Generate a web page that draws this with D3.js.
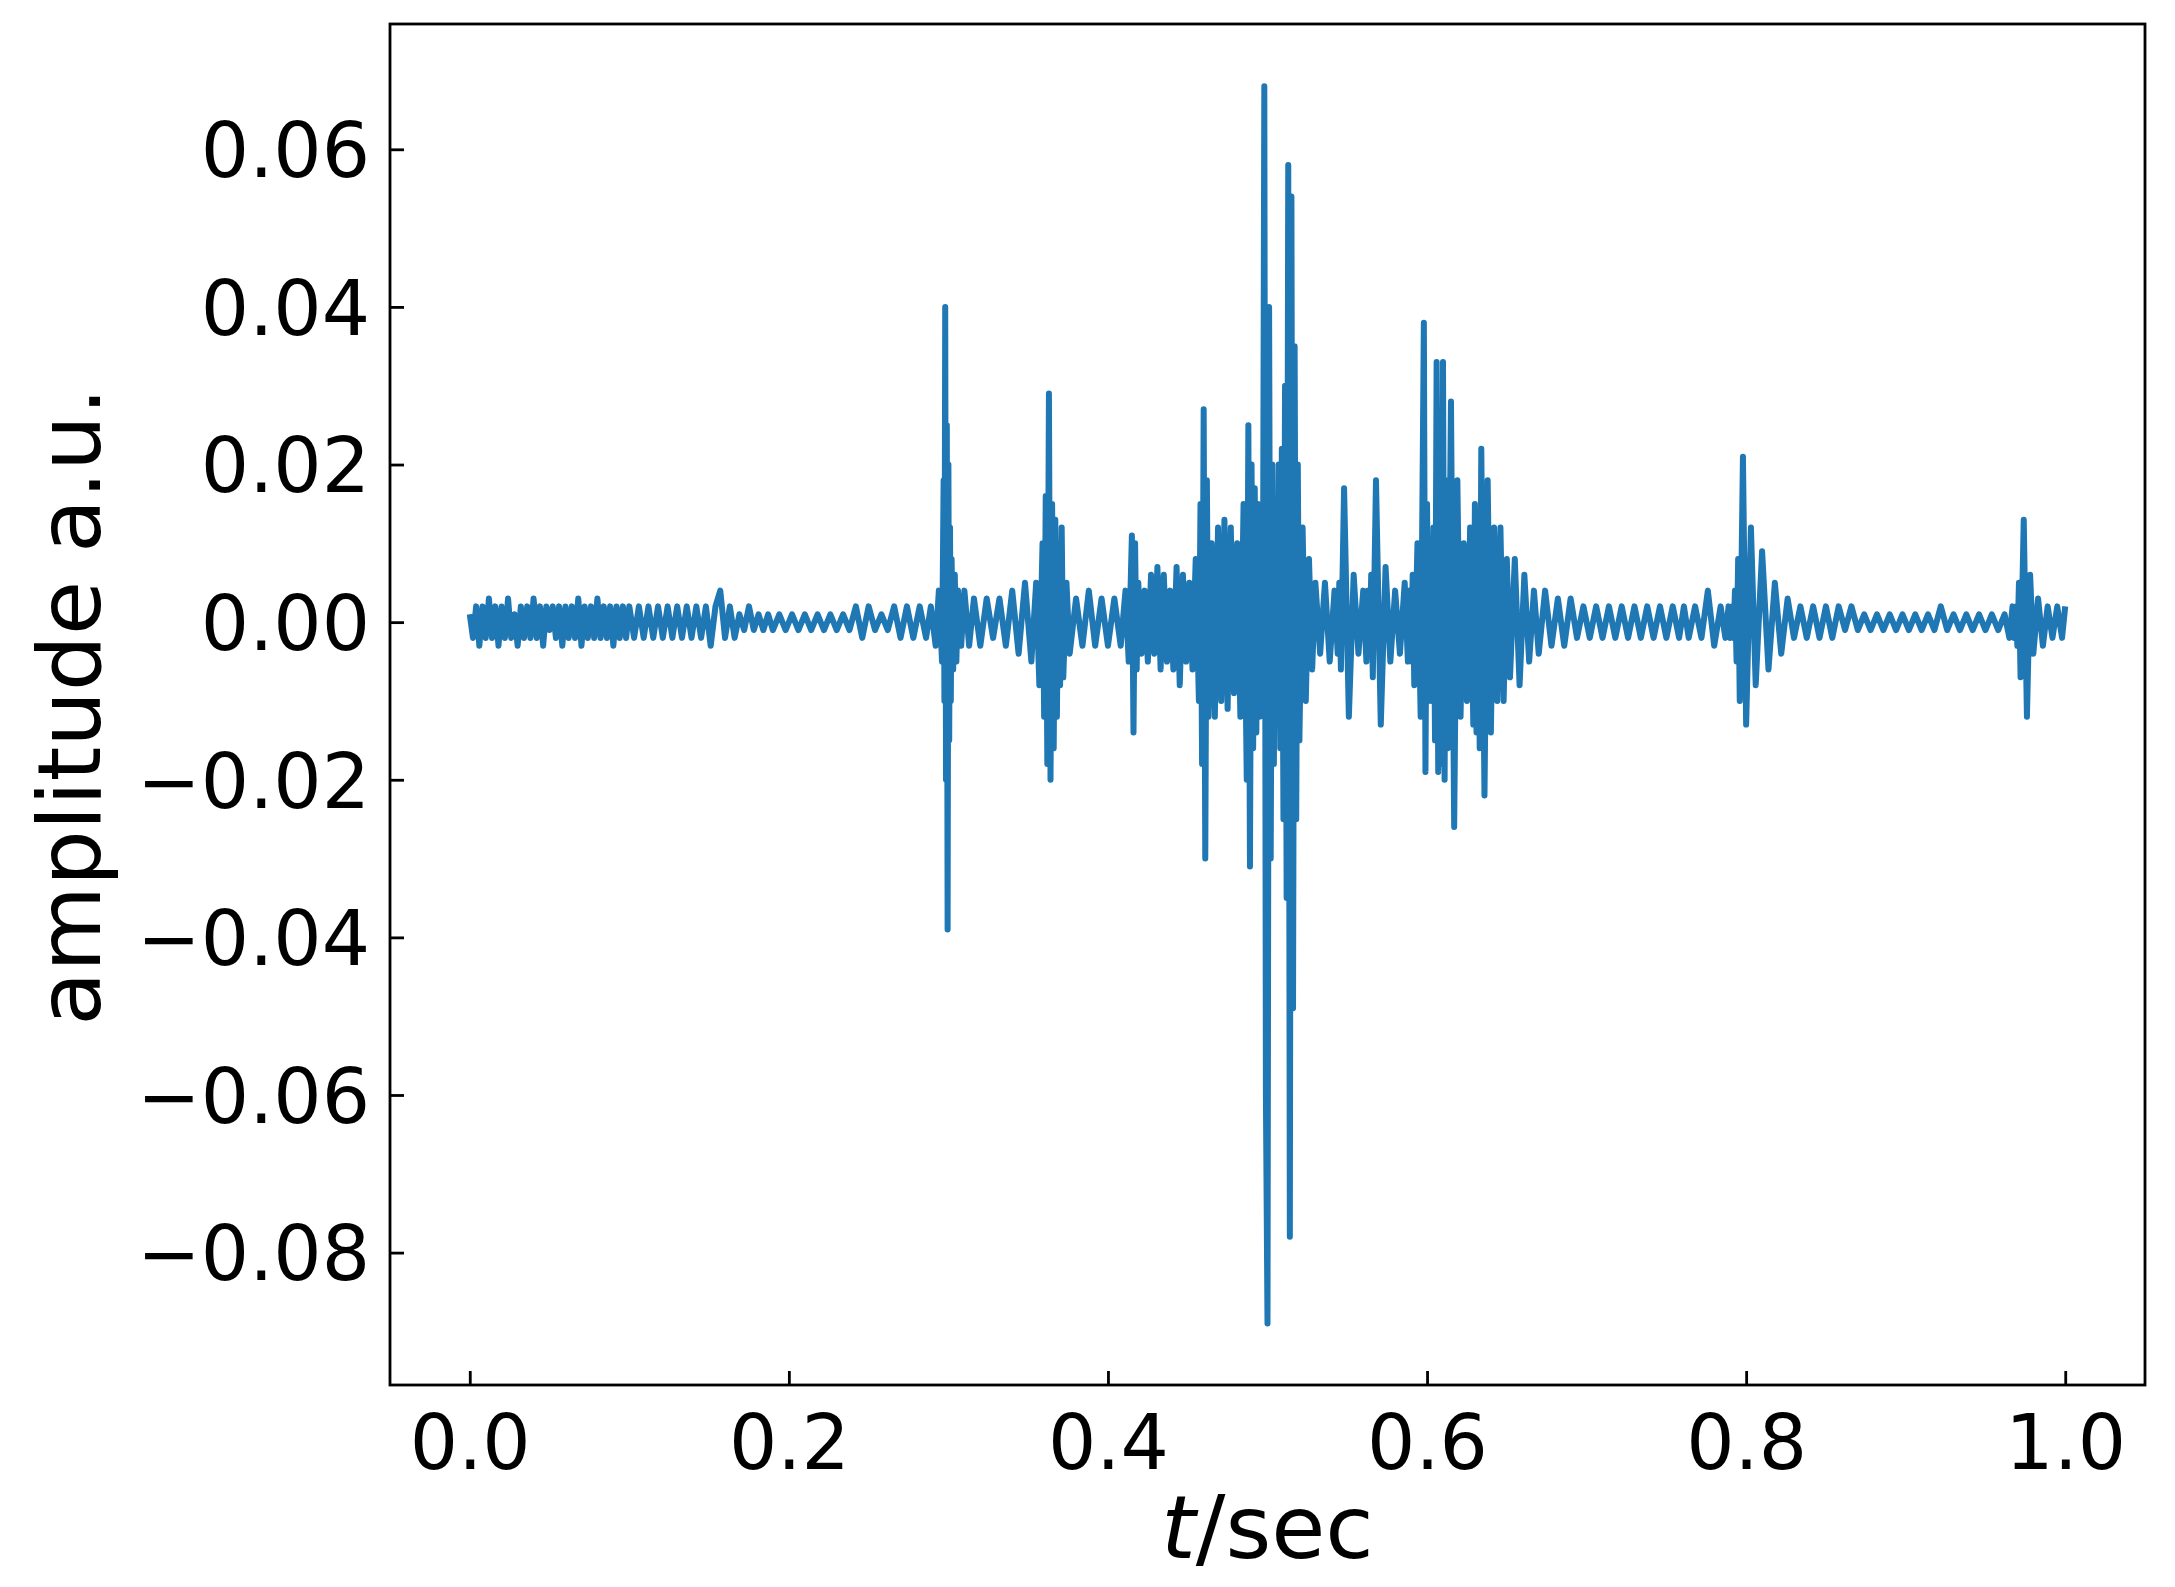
<!DOCTYPE html>
<html><head><meta charset="utf-8">
<script src="https://cdn.jsdelivr.net/npm/d3@7"></script>
<style>body{margin:0;background:#fff}svg{display:block}</style>
</head><body>
<script>
const times = [
0.000,0.002,0.004,0.006,0.008,0.010,0.012,0.014,0.016,0.018,0.020,0.022,0.024,0.026,0.028,0.030,0.032,0.034,0.036,0.038,0.040,0.042,0.044,0.046,0.048,0.050,0.052,0.054,0.056,0.058,0.060,0.062,0.064,0.066,0.068,0.070,0.072,0.074,0.076,0.078,0.080,0.082,0.084,0.086,0.088,0.090,0.092,0.094,0.096,0.098,
0.100,0.103,0.106,0.109,0.112,0.115,0.118,0.121,0.124,0.127,0.130,0.133,0.136,0.139,0.142,0.145,0.148,0.151,0.154,0.157,0.160,0.163,0.166,0.169,0.172,0.175,0.178,0.181,0.184,0.187,0.190,0.194,0.198,0.202,0.206,0.210,0.214,0.218,0.222,0.226,0.230,0.234,0.238,0.242,0.246,0.250,0.254,0.258,0.262,0.266,0.270,0.274,0.278,0.282,0.286,0.289,0.292,0.294,0.296,
0.2970,0.2975,0.2980,0.2985,0.2990,0.2995,0.3000,0.3005,0.3010,0.3015,0.3020,0.3030,0.3040,0.3050,0.3060,0.308,0.310,0.313,0.316,0.320,0.324,0.328,0.332,0.336,0.340,0.344,0.348,0.352,0.355,0.357,0.359,0.360,0.361,0.362,0.363,0.364,0.365,0.366,0.367,0.368,0.369,0.370,0.371,0.372,0.374,0.376,0.380,0.384,0.388,0.392,0.396,0.400,0.404,0.408,0.411,0.413,0.415,0.416,0.417,0.418,0.419,0.421,0.423,0.425,0.427,0.429,0.431,0.433,0.435,0.437,0.439,0.441,0.443,0.445,0.447,0.449,0.451,0.453,0.455,0.457,0.458,0.459,0.460,0.461,0.462,0.463,0.465,0.467,0.469,0.471,0.473,0.475,0.477,0.479,0.481,0.483,0.485,0.487,0.488,0.489,0.490,0.491,0.492,0.493,0.494,0.495,0.496,0.497,0.498,0.499,0.500,0.501,0.502,0.503,0.504,0.505,0.506,0.507,0.508,0.509,0.510,0.511,0.512,0.513,0.514,0.515,0.516,0.517,0.518,0.519,0.520,0.522,0.524,0.526,0.528,0.530,0.533,0.536,0.539,0.542,0.544,0.545,0.546,0.548,0.551,0.554,0.557,0.560,0.562,0.563,0.564,0.565,0.566,0.568,0.571,0.574,0.577,0.580,0.583,0.586,0.588,0.589,0.590,0.591,0.592,0.594,0.596,0.598,0.599,0.600,0.601,0.602,0.603,0.604,0.605,0.606,0.607,0.608,0.609,0.610,0.611,0.612,0.613,0.615,0.617,0.619,0.621,0.623,0.625,0.627,0.629,0.630,0.631,0.632,0.633,0.634,0.636,0.638,0.640,0.642,0.644,0.646,0.648,0.650,0.652,0.655,0.658,0.661,0.664,0.667,0.670,0.674,0.678,0.682,0.686,0.690,0.694,0.698,0.702,0.706,0.710,0.714,0.718,0.722,0.726,0.730,0.734,0.738,0.742,0.746,0.750,0.754,0.758,0.761,0.764,0.768,0.772,0.776,0.780,0.784,0.787,0.789,0.790,0.791,0.792,0.793,0.794,0.795,0.796,0.798,0.800,0.803,0.806,0.810,0.814,0.818,0.822,0.826,0.830,0.834,0.838,0.842,0.846,0.850,0.854,0.858,0.862,0.866,0.870,0.874,0.878,0.882,0.886,0.890,0.894,0.898,0.902,0.906,0.910,0.914,0.918,0.922,0.926,0.930,0.934,0.938,0.942,0.946,0.950,0.954,0.958,0.962,0.965,0.967,0.968,0.969,0.970,0.971,0.972,0.974,0.976,0.978,0.980,0.983,0.986,0.989,0.992,0.995,0.998,1.000];
const amplitude = [
0.001,-0.002,0.002,-0.003,0.002,-0.002,0.003,-0.002,0.002,-0.003,0.002,-0.002,0.003,-0.002,0.001,-0.003,0.002,-0.002,0.002,-0.002,0.003,-0.002,0.002,-0.003,0.002,-0.001,0.002,-0.002,0.002,-0.003,0.002,-0.002,0.002,-0.002,0.003,-0.003,0.002,-0.002,0.002,-0.002,0.003,-0.002,0.002,-0.002,0.002,-0.003,0.002,-0.002,0.002,-0.002,
0.002,-0.002,0.002,-0.002,0.002,-0.002,0.002,-0.002,0.002,-0.002,0.002,-0.002,0.002,-0.002,0.002,-0.002,0.002,-0.003,0.002,0.004,-0.002,0.002,-0.002,0.001,-0.001,0.002,-0.001,0.001,-0.001,0.001,-0.001,0.001,-0.001,0.001,-0.001,0.001,-0.001,0.001,-0.001,0.001,-0.001,0.001,-0.001,0.002,-0.002,0.002,-0.001,0.001,-0.001,0.002,-0.002,0.002,-0.002,0.002,-0.002,0.002,-0.003,0.004,-0.005,
0.018,-0.010,0.040,-0.020,0.025,-0.039,0.020,-0.015,0.012,-0.010,0.008,-0.006,0.006,-0.005,0.004,-0.003,0.004,-0.003,0.003,-0.003,0.003,-0.002,0.003,-0.003,0.004,-0.004,0.005,-0.005,0.005,-0.008,0.010,-0.012,0.016,-0.018,0.029,-0.020,0.015,-0.016,0.013,-0.012,0.010,-0.008,0.012,-0.007,0.005,-0.004,0.003,-0.003,0.004,-0.003,0.003,-0.003,0.003,-0.003,0.004,-0.005,0.011,-0.014,0.010,-0.006,0.005,-0.004,0.004,-0.005,0.006,-0.004,0.007,-0.006,0.006,-0.005,0.004,-0.006,0.007,-0.008,0.006,-0.005,0.005,-0.006,0.008,-0.010,0.015,-0.018,0.027,-0.030,0.018,-0.012,0.010,-0.012,0.012,-0.010,0.013,-0.011,0.012,-0.009,0.010,-0.012,0.015,-0.020,0.025,-0.031,0.020,-0.016,0.017,-0.014,0.015,-0.012,0.014,-0.010,0.068,-0.060,-0.089,0.040,-0.030,0.020,-0.018,0.015,-0.013,0.020,-0.016,0.022,-0.025,0.030,-0.035,0.058,-0.078,0.054,-0.049,0.035,-0.025,0.020,-0.015,0.012,-0.010,0.008,-0.006,0.005,-0.004,0.005,-0.005,0.004,-0.004,0.005,-0.006,0.017,-0.012,0.006,-0.004,0.004,-0.005,0.004,-0.004,0.006,-0.007,0.018,-0.013,0.007,-0.005,0.004,-0.004,0.005,-0.005,0.004,-0.005,0.006,-0.008,0.010,-0.012,0.038,-0.019,0.015,-0.010,0.008,-0.010,0.012,-0.015,0.033,-0.019,0.015,-0.018,0.033,-0.020,0.018,-0.016,0.028,-0.026,0.018,-0.012,0.010,-0.010,0.012,-0.013,0.015,-0.014,0.012,-0.016,0.022,-0.022,0.018,-0.014,0.012,-0.010,0.012,-0.010,0.008,-0.007,0.008,-0.008,0.006,-0.005,0.004,-0.004,0.004,-0.003,0.003,-0.003,0.003,-0.002,0.002,-0.002,0.002,-0.002,0.002,-0.002,0.002,-0.002,0.002,-0.002,0.002,-0.002,0.002,-0.002,0.002,-0.002,0.002,-0.002,0.002,-0.002,0.004,-0.003,0.002,-0.002,0.002,-0.002,0.002,-0.002,0.004,-0.005,0.008,-0.010,0.021,-0.013,0.012,-0.008,0.009,-0.006,0.005,-0.004,0.003,-0.002,0.002,-0.002,0.002,-0.002,0.002,-0.002,0.002,-0.001,0.002,-0.001,0.001,-0.001,0.001,-0.001,0.001,-0.001,0.001,-0.001,0.001,-0.001,0.001,-0.001,0.002,-0.001,0.001,-0.001,0.001,-0.001,0.001,-0.001,0.001,-0.001,0.001,-0.002,0.002,-0.002,0.002,-0.003,0.005,-0.007,0.013,-0.012,0.006,-0.004,0.003,-0.003,0.002,-0.002,0.002,-0.002,0.002,-0.002,0.002,-0.002,0.001,-0.001];
const xTicks = [0.0,0.2,0.4,0.6,0.8,1.0];
const yTicks = [-0.08,-0.06,-0.04,-0.02,0.00,0.02,0.04,0.06];

const W=2175,H=1587, L=390,R=2145,T=24,B=1385;
const svg=d3.select("body").append("svg").attr("width",W).attr("height",H);
const x=d3.scaleLinear().domain([-0.05,1.05]).range([L,R]);
const y=d3.scaleLinear().domain([-0.0968,0.0759]).range([B,T]);
const font="DejaVu Sans";
const data=times.map((t,i)=>[t,amplitude[i]]);
svg.append("path").datum(data).attr("fill","none").attr("stroke","#1f77b4")
 .attr("stroke-width",6).attr("stroke-linejoin","round")
 .attr("d",d3.line().x(d=>x(d[0])).y(d=>y(d[1])));
const fmtX=d=>d.toFixed(1);
const fmtY=d=>(d<0?"\u2212":"")+Math.abs(d).toFixed(2);
const gx=svg.append("g").attr("transform",`translate(0,${B})`)
 .call(d3.axisBottom(x).tickValues(xTicks).tickFormat(fmtX).tickSizeInner(-14).tickSizeOuter(0).tickPadding(30));
const gy=svg.append("g").attr("transform",`translate(${L},0)`)
 .call(d3.axisLeft(y).tickValues(yTicks).tickFormat(fmtY).tickSizeInner(-14).tickSizeOuter(0).tickPadding(20));
[gx,gy].forEach(g=>{g.select(".domain").remove();
 g.selectAll("line").attr("stroke","#000").attr("stroke-width",2.8);
 g.selectAll("text").attr("font-family",font).attr("font-size",76).attr("fill","#000");});
gy.selectAll("text").attr("dy","0.36em");
svg.append("rect").attr("x",L).attr("y",T).attr("width",R-L).attr("height",B-T)
 .attr("fill","none").attr("stroke","#000").attr("stroke-width",2.8);
const xl=svg.append("text").attr("x",(L+R)/2).attr("y",1558).attr("text-anchor","middle")
 .attr("font-family",font).attr("font-size",88);
xl.append("tspan").attr("font-style","italic").text("t");
xl.append("tspan").text("/sec");
svg.append("text").attr("transform",`translate(100,${(T+B)/2+2}) rotate(-90)`).attr("text-anchor","middle")
 .attr("font-family",font).attr("font-size",88).text("amplitude a.u.");
</script>
</body></html>
